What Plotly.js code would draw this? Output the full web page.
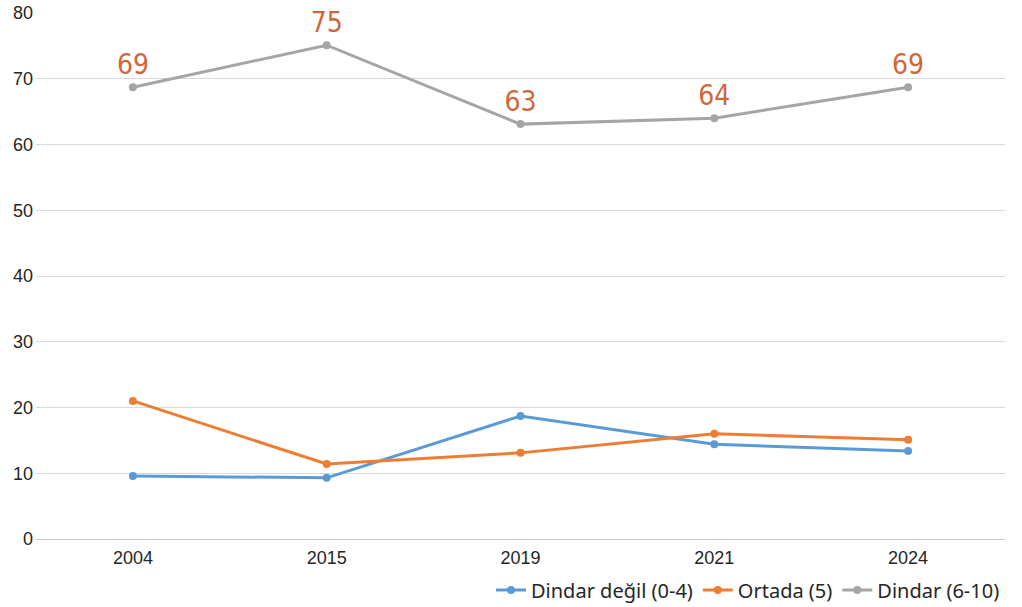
<!DOCTYPE html>
<html>
<head>
<meta charset="utf-8">
<script src="https://cdn.plot.ly/plotly-3.0.1.min.js"></script>
<style>html,body{margin:0;padding:0;background:#fff;}#chart{width:1022px;height:607px;}</style>
</head>
<body>
<div id="chart"></div>
<script>
const years = ["2004", "2015", "2019", "2021", "2024"];
const dindarDegil = [9.6, 9.3, 18.7, 14.4, 13.4];
const ortada = [21.0, 11.4, 13.1, 16.0, 15.1];
const dindar = [68.7, 75.1, 63.1, 64.0, 68.7];
const dindarLabels = ["69", "75", "63", "64", "69"];
const seriesNames = ["Dindar değil (0-4)", "Ortada (5)", "Dindar (6-10)"];
const yTicks = [0, 10, 20, 30, 40, 50, 60, 70, 80];

const colors = ["#5B9BD5", "#ED7D31", "#A5A5A5"];
function mk(y, i, extra) {
  return Object.assign({
    x: years, y: y, name: seriesNames[i], type: "scatter", mode: "lines+markers",
    line: {color: colors[i], width: 3},
    marker: {color: colors[i], size: 8},
    cliponaxis: false,
    hoverinfo: "skip"
  }, extra || {});
}
const data = [
  mk(dindarDegil, 0),
  mk(ortada, 1),
  mk(dindar, 2, {
    mode: "lines+markers+text", text: dindarLabels, textposition: "top center",
    textfont: {family: "DejaVu Sans Condensed, Liberation Sans Narrow, sans-serif", size: 28, color: "#D0673A"}
  })
];
const tickFont = {family: "Liberation Sans, Arial, sans-serif", size: 18, color: "#262626"};
const layout = {
  width: 1022, height: 607,
  margin: {l: 36, r: 17, t: 13, b: 68, autoexpand: false},
  paper_bgcolor: "#fff", plot_bgcolor: "#fff",
  showlegend: true,
  legend: {orientation: "h", x: 1.0, xanchor: "right", y: -0.097, yanchor: "middle",
    font: {family: "Noto Sans, sans-serif", size: 20, color: "#262626"}, traceorder: "normal"},
  xaxis: {type: "category", range: [-0.5, 4.5], showgrid: false, zeroline: false, showline: false,
    ticks: "", ticklabelstandoff: 6, tickfont: tickFont},
  yaxis: {range: [0, 80], tickvals: yTicks, showgrid: true, gridcolor: "#D9D9D9", gridwidth: 1,
    zeroline: true, zerolinecolor: "#C8C8C8", zerolinewidth: 1, showline: false, ticks: "",
    ticklabelstandoff: 2, tickfont: tickFont}
};
Plotly.newPlot("chart", data, layout, {staticPlot: true, displayModeBar: false});
</script>
</body>
</html>
